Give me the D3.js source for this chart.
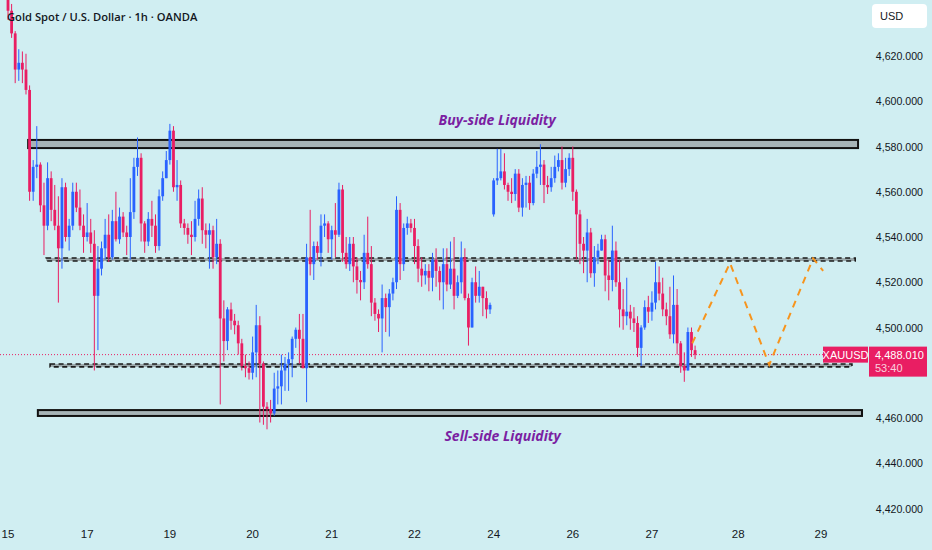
<!DOCTYPE html>
<html lang="en">
<head>
<meta charset="utf-8">
<title>Gold Spot / U.S. Dollar</title>
<script src="https://cdn.jsdelivr.net/npm/d3@7"></script>
<style>
  body { margin: 0; background: #d0eef2; }
  svg { display: block; font-family: "Liberation Sans", "DejaVu Sans", sans-serif; }
  .tick-y { font-size: 10.6px; fill: #131722; }
  .tick-x { font-size: 11.5px; fill: #131722; }
  .title { font-family: "Open Sans", sans-serif; font-size: 11.2px; font-weight: 600; fill: #131722; }
  .liq { font-family: "Open Sans", sans-serif; font-size: 14px; font-weight: 700; font-style: italic; fill: #7b1fa2; }
</style>
</head>
<body>
<script>
// hourly candles, bar index 0 = first bar of the 15th
var opens = [4652,4640,4630,4614,4617,4614,4605,4560,4571,4572,4554,4545,4566,4552,4545,4535,4562,4540,4545,4560,
  4553,4545,4540,4542,4537,4514,4526,4535,4541,4531,4547,4539,4549,4542,4540,4551,4571,4575,4546,4538,
  4548,4545,4536,4558,4566,4574,4587,4562,4563,4546,4544,4541,4540,4548,4557,4543,4541,4543,4531,4537,
  4504,4494,4508,4503,4501,4493,4483,4482,4480,4489,4501,4484,4465,4464,4462,4473,4474,4481,4484,4486,
  4495,4499,4495,4482,4531,4528,4536,4533,4545,4546,4539,4543,4541,4561,4533,4528,4537,4527,4521,4520,
  4533,4528,4511,4506,4504,4513,4509,4515,4520,4552,4528,4544,4546,4544,4536,4526,4523,4525,4522,4530,
  4525,4520,4528,4519,4526,4514,4520,4531,4513,4500,4520,4514,4518,4513,4508,
  4550,4565,4566,4569,4563,4560,4559,4568,4553,4563,4564,4555,4568,4571,4572,4563,4562,4566,4571,4574,
  4564,4570,4575,4560,4550,4537,4534,4542,4524,4531,4534,4539,4523,4521,4534,4520,4508,4505,4507,4504,
  4502,4491,4500,4509,4507,4511,4520,4515,4508,4505,4497,4510,4493,4483,4481,4498,4490];
var highs = [4654,4643,4631,4623,4622,4621,4607,4574,4589,4573,4564,4573,4569,4563,4558,4566,4564,4548,4564,4564,
  4561,4550,4555,4548,4543,4536,4538,4548,4550,4552,4560,4553,4551,4545,4566,4575,4584,4577,4547,4551,
  4556,4550,4561,4569,4578,4590,4589,4574,4565,4548,4546,4547,4556,4561,4562,4546,4546,4545,4548,4539,
  4512,4509,4511,4506,4503,4495,4488,4485,4496,4510,4505,4485,4467,4468,4480,4481,4488,4487,4489,4496,
  4500,4506,4506,4537,4552,4538,4538,4550,4550,4547,4545,4555,4564,4563,4540,4540,4540,4531,4525,4541,
  4549,4536,4513,4508,4519,4515,4517,4522,4558,4555,4546,4549,4548,4548,4539,4531,4528,4528,4533,4535,
  4527,4535,4535,4538,4540,4523,4538,4535,4515,4522,4527,4525,4518,4516,4511,
  4566,4579,4579,4577,4564,4566,4570,4570,4566,4567,4567,4570,4578,4581,4574,4567,4571,4576,4577,4580,
  4575,4577,4580,4561,4552,4540,4548,4544,4536,4537,4541,4541,4530,4545,4538,4530,4517,4522,4510,4509,
  4505,4501,4512,4514,4516,4529,4527,4522,4511,4518,4523,4517,4494,4489,4500,4500,4492];
var lows = [4636,4628,4608,4609,4608,4603,4556,4556,4566,4551,4532,4543,4547,4543,4511,4526,4538,4534,4543,4551,
  4543,4533,4538,4533,4481,4490,4523,4530,4529,4530,4538,4537,4540,4532,4530,4548,4567,4538,4533,4536,
  4540,4533,4534,4556,4566,4572,4560,4556,4544,4541,4537,4532,4538,4545,4537,4535,4526,4526,4528,4466,
  4485,4490,4499,4497,4488,4481,4478,4477,4477,4478,4458,4457,4455,4458,4461,4466,4466,4472,4472,4478,
  4491,4484,4482,4467,4523,4521,4530,4527,4540,4533,4530,4531,4540,4529,4526,4525,4520,4515,4512,4517,
  4526,4505,4503,4498,4489,4498,4496,4512,4517,4521,4525,4541,4542,4528,4520,4518,4519,4516,4516,4518,
  4512,4508,4516,4517,4508,4513,4515,4512,4492,4500,4511,4511,4505,4504,4506,
  4549,4563,4565,4561,4556,4555,4556,4551,4549,4553,4552,4554,4566,4563,4555,4559,4560,4564,4569,4561,
  4562,4567,4556,4530,4528,4524,4520,4522,4518,4528,4534,4516,4512,4516,4518,4500,4499,4501,4499,4498,
  4487,4483,4499,4502,4503,4508,4512,4505,4501,4495,4493,4488,4480,4476,4481,4487,4486];
var closes = [4640,4630,4614,4617,4614,4605,4560,4571,4572,4554,4545,4566,4552,4545,4535,4562,4540,4545,4560,4553,
  4545,4540,4542,4537,4514,4526,4535,4541,4531,4547,4539,4549,4542,4540,4551,4571,4575,4546,4538,4548,
  4545,4536,4558,4566,4574,4587,4562,4563,4546,4544,4541,4540,4548,4557,4543,4541,4543,4531,4537,4504,
  4494,4508,4503,4501,4493,4483,4482,4480,4489,4501,4484,4465,4464,4462,4473,4474,4481,4484,4486,4495,
  4499,4495,4482,4531,4528,4536,4533,4545,4546,4539,4543,4541,4561,4533,4528,4537,4527,4521,4520,4533,
  4528,4511,4506,4504,4513,4509,4515,4520,4552,4528,4544,4546,4544,4536,4526,4523,4525,4522,4530,4525,
  4520,4528,4519,4526,4514,4520,4531,4513,4500,4520,4514,4518,4513,4508,4510,
  4565,4566,4569,4563,4560,4559,4568,4553,4563,4564,4555,4568,4571,4572,4563,4562,4566,4571,4574,4564,
  4570,4575,4560,4550,4537,4534,4542,4524,4531,4534,4539,4523,4521,4534,4520,4508,4505,4507,4504,4502,
  4491,4500,4509,4507,4511,4520,4515,4508,4505,4497,4510,4493,4483,4481,4498,4490,4488.01];

// date labels and the bar index where each day starts
var dayLabels = ["15","17","19","20","21","22","24","26","27","28","29"];
var dayBars = [0,22,45,68,90,113,135,157,179,203,226];

var priceTicks = [4420,4440,4460,4500,4520,4540,4560,4580,4600,4620];

// drawn zones: [barFrom, barTo, priceLow, priceHigh]
var solidZones = [[5.6,236.3,4579.3,4582.9],[8.3,237.4,4460.9,4463.5]];
var dashedZones = [[10.6,235.5,4529.4,4530.7],[11.7,234.6,4482.6,4483.9]];

// projected path
var projBars = [190.2,200.7,211.6,223.8,226.6];
var projPrices = [4493,4528.5,4483.5,4530.5,4525];

var lastPrice = 4488.01;
var countdown = "53:40";

var width = 932, height = 550;
var plotRight = 868, plotBottom = 515;

var x = d3.scaleLinear().domain([0, 226]).range([8, 821]);
var y = d3.scaleLinear().domain([4420, 4620]).range([508.5, 56]);

var svg = d3.select("body").append("svg")
  .attr("width", width)
  .attr("height", height);

svg.append("rect").attr("width", width).attr("height", height).attr("fill", "#d0eef2");

svg.append("clipPath").attr("id", "plot")
  .append("rect").attr("x", 0).attr("y", 0).attr("width", plotRight).attr("height", plotBottom);

var plot = svg.append("g").attr("clip-path", "url(#plot)");

// last price dotted line
plot.append("line")
  .attr("x1", 0).attr("x2", 824)
  .attr("y1", y(lastPrice)).attr("y2", y(lastPrice))
  .attr("stroke", "#e91e63").attr("stroke-width", 1)
  .attr("stroke-dasharray", "1,2");

// zones
plot.selectAll(".zone-solid")
  .data(solidZones)
  .enter().append("rect")
  .attr("class", "zone-solid")
  .attr("x", function(d) { return x(d[0]); })
  .attr("width", function(d) { return x(d[1]) - x(d[0]); })
  .attr("y", function(d) { return y(d[3]); })
  .attr("height", function(d) { return y(d[2]) - y(d[3]); })
  .attr("fill", "#a7b4b7")
  .attr("stroke", "#111")
  .attr("stroke-width", 2);

plot.selectAll(".zone-dash")
  .data(dashedZones)
  .enter().append("rect")
  .attr("class", "zone-dash")
  .attr("x", function(d) { return x(d[0]); })
  .attr("width", function(d) { return x(d[1]) - x(d[0]); })
  .attr("y", function(d) { return y(d[3]); })
  .attr("height", function(d) { return y(d[2]) - y(d[3]); })
  .attr("fill", "#9aa7aa")
  .attr("stroke", "#1b1b1b")
  .attr("stroke-width", 1.6)
  .attr("stroke-dasharray", "5,3.5");

// candles
var idx = d3.range(closes.length);
var bodyW = 2.8;
function col(i) { return closes[i] >= opens[i] ? "#2962ff" : "#e91e63"; }

plot.selectAll(".wick")
  .data(idx)
  .enter().append("line")
  .attr("class", "wick")
  .attr("x1", function(i) { return x(i); })
  .attr("x2", function(i) { return x(i); })
  .attr("y1", function(i) { return y(highs[i]); })
  .attr("y2", function(i) { return y(lows[i]); })
  .attr("stroke", col)
  .attr("stroke-width", 1);

plot.selectAll(".body")
  .data(idx)
  .enter().append("rect")
  .attr("class", "body")
  .attr("x", function(i) { return x(i) - bodyW / 2; })
  .attr("width", bodyW)
  .attr("y", function(i) { return y(Math.max(opens[i], closes[i])); })
  .attr("height", function(i) { return Math.max(1, Math.abs(y(opens[i]) - y(closes[i]))); })
  .attr("fill", col);

// projection
var proj = d3.line()
  .x(function(d) { return x(d); })
  .y(function(d, i) { return y(projPrices[i]); });

plot.append("path")
  .attr("d", proj(projBars))
  .attr("fill", "none")
  .attr("stroke", "#f7941d")
  .attr("stroke-width", 2)
  .attr("stroke-dasharray", "7,6");

// liquidity labels
plot.append("text").attr("class", "liq")
  .attr("x", x(136)).attr("y", y(4589.5))
  .attr("text-anchor", "middle")
  .text("Buy-side Liquidity");

plot.append("text").attr("class", "liq")
  .attr("x", x(137.5)).attr("y", y(4450))
  .attr("text-anchor", "middle")
  .text("Sell-side Liquidity");

// title
svg.append("text").attr("class", "title")
  .attr("x", 7).attr("y", 21)
  .text("Gold Spot / U.S. Dollar \u00b7 1h \u00b7 OANDA");

// price axis
var fmt = d3.format(",.3f");
svg.selectAll(".tick-y")
  .data(priceTicks)
  .enter().append("text")
  .attr("class", "tick-y")
  .attr("x", 923)
  .attr("y", function(d) { return y(d) + 4; })
  .attr("text-anchor", "end")
  .text(function(d) { return fmt(d); });

// USD box
svg.append("rect")
  .attr("x", 872).attr("y", 4).attr("width", 55).attr("height", 24)
  .attr("rx", 4).attr("fill", "#ffffff");
svg.append("text")
  .attr("x", 880).attr("y", 20)
  .attr("font-size", 11).attr("fill", "#131722")
  .text("USD");

// time axis
svg.selectAll(".tick-x")
  .data(dayLabels)
  .enter().append("text")
  .attr("class", "tick-x")
  .attr("x", function(d, i) { return x(dayBars[i]); })
  .attr("y", 538)
  .attr("text-anchor", "middle")
  .text(function(d) { return d; });

// last price tags
var ly = y(lastPrice);
svg.append("rect")
  .attr("x", 823).attr("y", ly - 8).attr("width", 45).attr("height", 16)
  .attr("fill", "#e91e63");
svg.append("text")
  .attr("x", 845.5).attr("y", ly + 4)
  .attr("text-anchor", "middle")
  .attr("font-size", 11).attr("fill", "#fff")
  .text("XAUUSD");
svg.append("rect")
  .attr("x", 869).attr("y", ly - 8).attr("width", 58).attr("height", 30)
  .attr("fill", "#e91e63");
svg.append("text")
  .attr("x", 875).attr("y", ly + 4)
  .attr("font-size", 11).attr("fill", "#fff")
  .text(fmt(lastPrice));
svg.append("text")
  .attr("x", 875).attr("y", ly + 17)
  .attr("font-size", 11).attr("fill", "#fff").attr("fill-opacity", 0.8)
  .text(countdown);
</script>
</body>
</html>
